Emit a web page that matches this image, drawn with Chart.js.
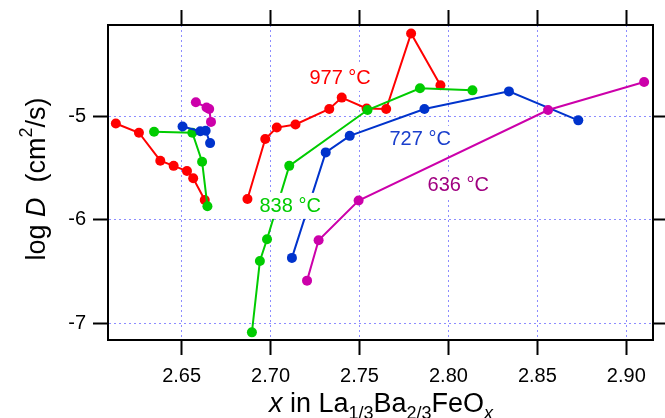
<!DOCTYPE html>
<html lang="en">
<head>
  <meta charset="UTF-8">
  <title>log D vs x in La1/3Ba2/3FeOx</title>
  <script src="https://cdn.jsdelivr.net/npm/chart.js"></script>
  <style>
    html, body {
      margin: 0;
      padding: 0;
      background: #fff;
    }

    #wrap {
      width: 665px;
      height: 418px;
    }
  </style>
</head>
<body>
  <div id="wrap"><canvas id="chart" width="665" height="418"></canvas></div>

  <script>
    // 977 °C (two runs, not joined)
    const x977a = [2.613, 2.626, 2.638, 2.6455, 2.653, 2.6565, 2.663];
    const y977a = [-5.07, -5.16, -5.43, -5.48, -5.53, -5.60, -5.81];
    const x977b = [2.687, 2.697, 2.7035, 2.714, 2.733, 2.740, 2.754, 2.765, 2.779, 2.7955];
    const y977b = [-5.80, -5.22, -5.11, -5.08, -4.93, -4.82, -4.925, -4.93, -4.20, -4.70];

    // 838 °C
    const x838a = [2.6345, 2.656, 2.6615, 2.6645];
    const y838a = [-5.15, -5.16, -5.44, -5.87];
    const x838b = [2.6895, 2.694, 2.698, 2.7105, 2.7545, 2.784, 2.8135];
    const y838b = [-7.09, -6.40, -6.19, -5.48, -4.94, -4.73, -4.75];

    // 727 °C
    const x727a = [2.6505, 2.6605, 2.6635, 2.666];
    const y727a = [-5.10, -5.145, -5.14, -5.26];
    const x727b = [2.712, 2.731, 2.7445, 2.7865, 2.834, 2.873];
    const y727b = [-6.37, -5.35, -5.19, -4.93, -4.76, -5.04];

    // 636 °C
    const x636a = [2.658, 2.664, 2.6655, 2.6665];
    const y636a = [-4.865, -4.915, -4.93, -5.055];
    const x636b = [2.7205, 2.727, 2.7495, 2.856, 2.910];
    const y636b = [-6.59, -6.20, -5.815, -4.94, -4.67];

    const xTicks = [2.65, 2.70, 2.75, 2.80, 2.85, 2.90];
    const yTicks = [-7, -6, -5];
    const xRange = [2.6086, 2.915];
    const yRange = [-7.164, -4.118];

    const FONT = '"Liberation Sans", Arial, Helvetica, sans-serif';

    const series = [
      { name: '636 °C', color: '#cc00aa', text: '#a00080', runs: [[x636a, y636a], [x636b, y636b]], at: [2.8055, -5.66] },
      { name: '727 °C', color: '#0033cc', text: '#1a3fcc', runs: [[x727a, y727a], [x727b, y727b]], at: [2.7841, -5.22] },
      { name: '838 °C', color: '#00cc00', text: '#00cc00', runs: [[x838a, y838a], [x838b, y838b]], at: [2.711, -5.867] },
      { name: '977 °C', color: '#ff0000', text: '#ff0000', runs: [[x977a, y977a], [x977b, y977b]], at: [2.7391, -4.63] }
    ];

    const datasets = [];
    series.forEach(s => {
      s.runs.forEach(([xs, ys]) => {
        datasets.push({
          label: s.name,
          data: xs.map((x, i) => ({ x: x, y: ys[i] })),
          showLine: true,
          borderColor: s.color,
          backgroundColor: s.color,
          borderWidth: 2,
          pointRadius: 5,
          pointBorderWidth: 0,
          pointBackgroundColor: s.color,
          tension: 0
        });
      });
    });

    const fixTicks = list => scale => { scale.ticks = list.map(v => ({ value: v })); };

    // in-plot temperature labels on white boxes, plus the axis titles
    const textPlugin = {
      id: 'texts',
      afterDatasetsDraw(chart) {
        const ctx = chart.ctx;
        const xs = chart.scales.x, ys = chart.scales.y;
        ctx.save();
        ctx.font = '20px ' + FONT;
        ctx.textAlign = 'center';
        ctx.textBaseline = 'middle';
        series.forEach(s => {
          const px = xs.getPixelForValue(s.at[0]);
          const py = ys.getPixelForValue(s.at[1]);
          const w = ctx.measureText(s.name).width;
          ctx.fillStyle = '#fff';
          ctx.fillRect(px - w / 2 - 1, py - 13, w + 2, 26);
          ctx.fillStyle = s.text;
          ctx.fillText(s.name, px, py + 1);
        });
        ctx.restore();
      },
      afterDraw(chart) {
        const ctx = chart.ctx;
        const drawParts = (parts, cx, cy) => {
          let total = 0;
          parts.forEach(p => {
            ctx.font = (p.it ? 'italic ' : '') + p.size + 'px ' + FONT;
            p.w = ctx.measureText(p.t).width;
            total += p.w;
          });
          let x = cx - total / 2;
          parts.forEach(p => {
            ctx.font = (p.it ? 'italic ' : '') + p.size + 'px ' + FONT;
            ctx.fillText(p.t, x, cy + (p.dy || 0));
            x += p.w;
          });
        };
        ctx.save();
        ctx.fillStyle = '#000';
        ctx.textAlign = 'left';
        ctx.textBaseline = 'alphabetic';
        drawParts([
          { t: 'x', it: true, size: 27 },
          { t: ' in La', size: 27 },
          { t: '1/3', size: 18, dy: 7 },
          { t: 'Ba', size: 27 },
          { t: '2/3', size: 18, dy: 7 },
          { t: 'FeO', size: 27 },
          { t: 'x', it: true, size: 18, dy: 7 }
        ], 381, 412);

        ctx.translate(45, 179);
        ctx.rotate(-Math.PI / 2);
        drawParts([
          { t: 'log ', size: 27 },
          { t: 'D', it: true, size: 27 },
          { t: '  (cm', size: 27 },
          { t: '2', size: 18, dy: -13 },
          { t: '/s)', size: 27 }
        ], 0, 0);
        ctx.restore();
      }
    };

    const tickFont = { family: FONT, size: 20 };

    new Chart(document.getElementById('chart'), {
      type: 'scatter',
      data: { datasets: datasets },
      plugins: [textPlugin],
      options: {
        responsive: false,
        animation: false,
        events: [],
        layout: { padding: 0 },
        plugins: {
          legend: { display: false },
          tooltip: { enabled: false }
        },
        scales: {
          x: {
            type: 'linear',
            position: 'bottom',
            min: xRange[0],
            max: xRange[1],
            afterBuildTicks: fixTicks(xTicks),
            afterFit: s => { s.height = 78; },
            ticks: {
              font: tickFont,
              color: '#000',
              padding: 9,
              maxRotation: 0,
              autoSkip: false,
              callback: v => v.toFixed(2)
            },
            grid: { color: '#8c8cff', lineWidth: 1, tickLength: 15, tickColor: '#000', tickWidth: 2 },
            border: { display: true, color: '#000', width: 2, dash: [2, 3] }
          },
          xTop: {
            type: 'linear',
            position: 'top',
            min: xRange[0],
            max: xRange[1],
            afterBuildTicks: fixTicks(xTicks),
            afterFit: s => { s.height = 25; },
            ticks: { display: false },
            grid: { drawOnChartArea: false, tickLength: 15, tickColor: '#000', tickWidth: 2 },
            border: { display: true, color: '#000', width: 2 }
          },
          y: {
            type: 'linear',
            position: 'left',
            min: yRange[0],
            max: yRange[1],
            afterBuildTicks: fixTicks(yTicks),
            afterFit: s => { s.width = 108; },
            ticks: {
              font: tickFont,
              color: '#000',
              padding: 7,
              callback: v => String(v)
            },
            grid: { color: '#8c8cff', lineWidth: 1, tickLength: 15, tickColor: '#000', tickWidth: 2 },
            border: { display: true, color: '#000', width: 2, dash: [2, 3] }
          },
          yRight: {
            type: 'linear',
            position: 'right',
            min: yRange[0],
            max: yRange[1],
            afterBuildTicks: fixTicks(yTicks),
            afterFit: s => { s.width = 12; },
            ticks: { display: false },
            grid: { drawOnChartArea: false, tickLength: 15, tickColor: '#000', tickWidth: 2 },
            border: { display: true, color: '#000', width: 2 }
          }
        }
      }
    });
  </script>
</body>
</html>
